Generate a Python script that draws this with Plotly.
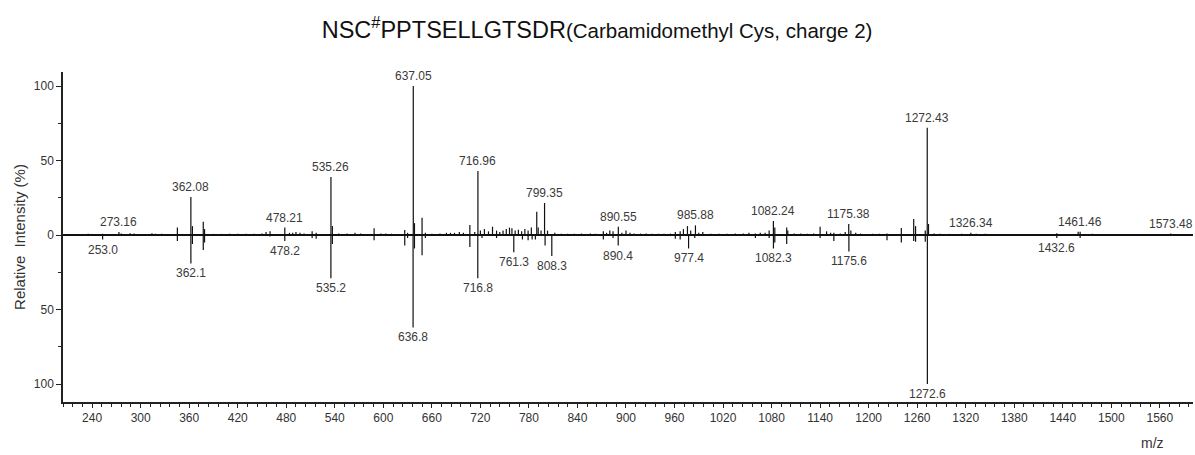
import plotly.graph_objects as go

# ---- data ----
up_mz = [235, 253, 263, 273.16, 276, 287, 292, 314, 318, 326, 332, 345.4, 362.08, 364, 377.4, 379,
         390, 400, 410, 420, 430, 440, 450, 455, 460, 478.21, 484, 488, 492, 497, 502, 512, 517,
         535.26, 537, 545, 555, 565, 572, 588.6, 597, 603, 610, 626.5, 630, 637.05, 638.5, 647.9,
         652, 660, 670, 678, 683, 688, 694, 699, 707, 713, 716.96, 720, 725, 730, 735, 740, 744,
         748, 752, 756, 759, 763, 767, 771, 775, 779, 783, 789.7, 791.5, 795, 799.35, 803, 812,
         820, 828, 836, 845, 856, 862, 872, 876, 880, 884, 890.55, 895, 900, 905, 910, 918, 925,
         932, 940, 947, 955, 961, 967, 971, 976, 980, 985.88, 990, 995, 1005, 1015, 1025, 1035,
         1045, 1052, 1060, 1066, 1072, 1077, 1082.24, 1084, 1098.7, 1100, 1108, 1116, 1124, 1132,
         1140, 1148, 1153, 1157, 1165, 1171, 1175.38, 1178, 1184, 1190, 1205, 1213, 1222.7,
         1240.4, 1255.7, 1258, 1270, 1272.43, 1274, 1281, 1288, 1300, 1315, 1326.34, 1333, 1344,
         1379, 1412, 1432.6, 1437, 1459, 1461.46, 1476.6, 1573.48]
up_int = [0.8, 0.8, 0.6, 2.0, 1.0, 1.2, 1.0, 1.2, 0.8, 0.8, 0.6, 5, 25.5, 6, 9, 4,
          0.8, 0.8, 0.8, 0.8, 0.8, 0.8, 1.0, 2, 2.5, 5, 1.5, 1.5, 2, 1.5, 1, 2.5, 1.5,
          39, 6, 1, 1, 1.5, 1, 4.5, 1, 1, 0.8, 3.4, 1.5, 100, 8, 11.6,
          1.5, 0.8, 1, 1.5, 1.5, 1.5, 2, 1.5, 6.7, 2, 43, 3, 4, 2.5, 5.6, 3, 2,
          3, 4, 5, 4.5, 3, 3.5, 2.5, 4, 3, 5, 15.6, 5, 3, 21.5, 3, 1.5,
          0.8, 0.8, 0.8, 1, 1, 0.8, 2.5, 1.5, 3, 2.5, 5.6, 1.5, 3, 1.5, 1, 1, 1,
          0.8, 0.8, 0.8, 1, 2, 2.5, 4, 6, 3, 6.5, 1.5, 2, 0.8, 0.8, 0.8, 1,
          1, 1.5, 1, 1.5, 1.5, 3, 9.4, 5, 5, 3, 1, 1, 0.8, 1,
          5.6, 2.5, 1.5, 1.5, 1, 2, 7.4, 3, 1.5, 1, 0.8, 0.8, 1,
          4.7, 10.7, 6, 3, 72, 7.4, 1, 0.8, 0.8, 0.8, 1.5, 0.8, 0.8,
          0.6, 0.6, 1.2, 0.6, 2.2, 2.2, 0.8, 1]

down_mz = [235, 253.0, 345.4, 362.1, 364, 377.4, 379, 460, 478.2, 512, 517, 535.2, 537, 588.6,
           626.5, 630, 636.8, 638.5, 647.9, 652, 707, 716.8, 722, 740, 761.3, 772, 779, 784, 788,
           800, 808.3, 872, 884, 890.4, 961, 967, 977.4, 985, 1060, 1077, 1082.3, 1084, 1098.7,
           1140, 1157, 1175.6, 1222.7, 1240.4, 1255.7, 1258, 1270, 1272.6, 1432.6, 1461.46]
down_int = [0.6, 3, 4, 19, 6, 10, 5, 1, 4, 2, 2.5, 29, 6, 3.5,
            7, 2, 62, 9, 13.5, 2, 8, 29, 2, 2, 11.5, 3, 3.5, 3, 3,
            7, 14, 3, 2, 7, 2.5, 3, 9, 2, 2, 2, 9, 5, 6,
            2, 4, 11, 3.4, 5, 4, 4.5, 4.5, 100, 2, 2]

up_labels = [(273.16, 2.0), (362.08, 25.5), (478.21, 5), (535.26, 39), (637.05, 100),
             (716.96, 43), (799.35, 21.5), (890.55, 5.6), (985.88, 6.5), (1082.24, 9.4),
             (1175.38, 7.4), (1272.43, 72), (1326.34, 1.5), (1461.46, 2.2), (1573.48, 1)]
down_labels = [(253.0, 3), (362.1, 19), (478.2, 4), (535.2, 29), (636.8, 62), (716.8, 29),
               (761.3, 11.5), (808.3, 14), (890.4, 7), (977.4, 9), (1082.3, 9), (1175.6, 11),
               (1272.6, 100), (1432.6, 2)]

x_tickvals = [240, 300, 360, 420, 480, 540, 600, 660, 720, 780, 840, 900, 960, 1020, 1080,
              1140, 1200, 1260, 1320, 1380, 1440, 1500, 1560]
y_tickvals = [100, 50, 0, -50, -100]
y_ticktext = ["100", "50", "0", "50", "100"]
precursor_mz = [816]

# ---- build stick lines ----
xs, ys = [], []
for m, v in zip(up_mz, up_int):
    xs += [m, m, None]
    ys += [0, v, None]
for m, v in zip(down_mz, down_int):
    xs += [m, m, None]
    ys += [0, -v, None]

fig = go.Figure()
fig.add_trace(go.Scatter(x=xs, y=ys, mode="lines", line=dict(color="#111111", width=1.2),
                         hoverinfo="skip", showlegend=False))
fig.add_trace(go.Scatter(x=precursor_mz, y=[-114.5], mode="markers",
                         marker=dict(symbol="triangle-up-open", size=10,
                                     color="#222222", line=dict(width=1)),
                         cliponaxis=False, showlegend=False, hoverinfo="skip"))

FONT = "Liberation Sans, Arial, sans-serif"
lab_font = dict(family=FONT, size=12, color="#3a3a3a")
for m, v in up_labels:
    fig.add_annotation(x=m, y=v, text=f"{m:.2f}", showarrow=False, yanchor="bottom",
                       yshift=1, font=lab_font)
for m, v in down_labels:
    fig.add_annotation(x=m, y=-v, text=f"{m:.1f}", showarrow=False, yanchor="top",
                       yshift=-1, font=lab_font)

fig.add_annotation(x=0.9646, xref="paper", y=-0.124, yref="paper", text="m/z", showarrow=False,
                   xanchor="center", yanchor="middle",
                   font=dict(family=FONT, size=14, color="#333333"))

fig.update_layout(
    width=1195, height=455,
    margin=dict(l=63, r=2, t=72, b=53, autoexpand=False),
    paper_bgcolor="white", plot_bgcolor="white",
    title=dict(
        text="NSC<sup>#</sup>PPTSELLGTSDR<span style='font-size:20.5px'>(Carbamidomethyl Cys, charge 2)</span>",
        x=0.4996, xanchor="center", y=0.934, yanchor="middle",
        font=dict(family=FONT, size=23.5, color="#111111")),
    xaxis=dict(range=[204, 1601], tickmode="array", tickvals=x_tickvals, automargin=False,
               ticks="outside", ticklen=4, tickwidth=1, tickcolor="#222",
               showline=True, linecolor="#222", linewidth=1.5, showgrid=False, zeroline=False,
               tickfont=dict(family=FONT, size=12, color="#333"),
               minor=dict(ticks="outside", ticklen=3, tickcolor="#222", dtick=12, tick0=240,
                          showgrid=False)),
    yaxis=dict(range=[-112, 109.4], tickmode="array", tickvals=y_tickvals, ticktext=y_ticktext,
               automargin=False,
               ticks="outside", ticklen=5, tickwidth=1, tickcolor="#222",
               showline=True, linecolor="#222", linewidth=1.5, showgrid=False,
               zeroline=True, zerolinecolor="#111", zerolinewidth=1.5,
               tickfont=dict(family=FONT, size=12, color="#333"),
               title=dict(text="Relative  Intensity (%)", standoff=5,
                          font=dict(family=FONT, size=15, color="#333")),
               minor=dict(ticks="outside", ticklen=3, tickcolor="#222", dtick=25, tick0=0,
                          showgrid=False)),
)

fig.write_html("out.html", config={"displayModeBar": False},
               post_script="document.body.style.margin='0';document.body.style.overflow='hidden';")
